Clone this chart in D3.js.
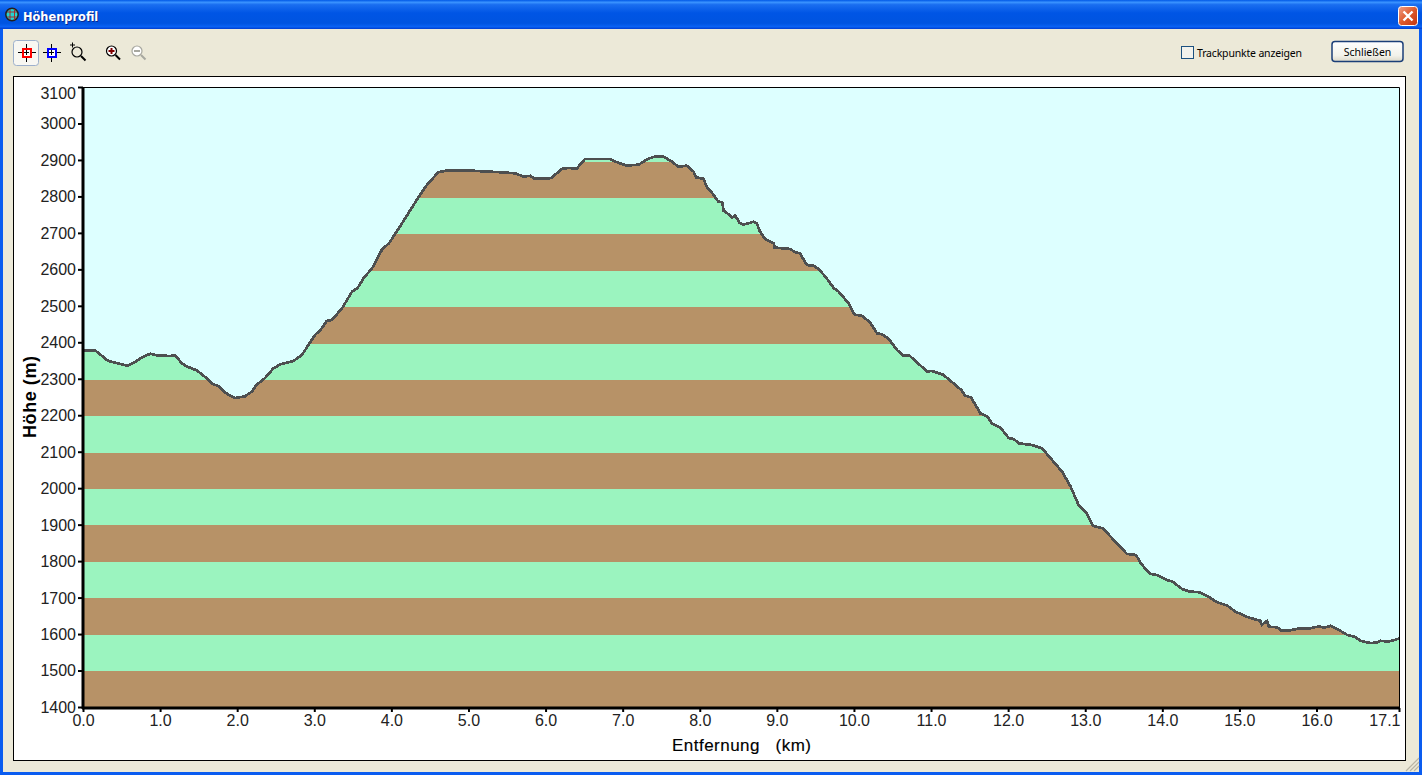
<!DOCTYPE html>
<html><head><meta charset="utf-8"><title>Höhenprofil</title>
<script src="https://cdn.jsdelivr.net/npm/d3@7"></script>
<style>html,body{margin:0;padding:0;background:#ECE9D8;overflow:hidden}svg{display:block}text{font-family:"Liberation Sans",Arial,sans-serif}</style>
</head><body><div id="chart"></div>
<script>
const distanceKm=[0,.16,.24,.32,.44,.58,.67,.76,.87,.97,1.13,1.20,1.28,1.35,1.48,1.58,1.67,1.76,1.86,1.97,2.10,2.19,2.25,2.36,2.47,2.56,2.73,2.84,2.89,3.01,3.08,3.16,3.23,3.36,3.49,3.56,3.64,3.75,3.88,3.97,4.07,4.22,4.33,4.46,4.61,4.70,5.06,5.41,5.61,5.71,5.80,5.86,6.02,6.08,6.21,6.30,6.40,6.51,6.71,6.84,6.92,7.05,7.21,7.33,7.42,7.53,7.64,7.72,7.83,7.92,7.95,8.05,8.09,8.18,8.24,8.29,8.31,8.37,8.42,8.46,8.52,8.57,8.70,8.74,8.78,8.85,8.96,8.97,9.17,9.24,9.30,9.39,9.48,9.54,9.63,9.74,9.80,9.93,10.01,10.10,10.21,10.30,10.36,10.45,10.56,10.64,10.72,10.82,10.95,11.01,11.16,11.29,11.40,11.44,11.52,11.64,11.73,11.79,11.90,12.01,12.07,12.14,12.31,12.44,12.55,12.70,12.81,12.91,13.02,13.10,13.23,13.41,13.54,13.66,13.72,13.84,13.93,14.06,14.13,14.26,14.36,14.47,14.60,14.71,14.84,14.95,15.12,15.27,15.29,15.36,15.38,15.49,15.54,15.66,15.75,15.88,16.04,16.09,16.18,16.29,16.40,16.50,16.57,16.70,16.78,16.83,16.94,17.07];
const elevationM=[2381,2381,2367,2353,2346,2339,2349,2361,2372,2367,2366,2367,2346,2337,2326,2309,2291,2282,2263,2250,2255,2268,2286,2305,2332,2343,2352,2369,2385,2424,2437,2462,2465,2497,2543,2552,2580,2607,2659,2676,2708,2758,2795,2836,2871,2875,2875,2871,2868,2859,2861,2853,2853,2856,2880,2883,2880,2907,2907,2907,2899,2889,2892,2908,2914,2914,2900,2886,2889,2873,2857,2853,2831,2809,2790,2789,2765,2756,2746,2752,2731,2727,2735,2731,2708,2687,2676,2664,2660,2651,2648,2616,2614,2605,2584,2552,2543,2511,2479,2477,2458,2428,2426,2413,2382,2367,2367,2348,2323,2325,2314,2291,2271,2257,2252,2208,2199,2181,2169,2140,2138,2126,2121,2112,2085,2048,2007,1958,1934,1899,1892,1851,1822,1819,1796,1767,1764,1750,1746,1725,1718,1717,1704,1689,1680,1663,1647,1638,1627,1638,1622,1620,1612,1612,1616,1616,1623,1619,1624,1613,1599,1594,1583,1577,1578,1583,1581,1589];
const yTicks=[1400,1500,1600,1700,1800,1900,2000,2100,2200,2300,2400,2500,2600,2700,2800,2900,3000,3100];
const xTicks=[0,1,2,3,4,5,6,7,8,9,10,11,12,13,14,15,16,17.07];
const bandEdges=[1400,1500,1600,1700,1800,1900,2000,2100,2200,2300,2400,2500,2600,2700,2800,2900,3000];
const labels={title:"Höhenprofil",check:"Trackpunkte anzeigen",close:"Schließen",xAxis:"Entfernung   (km)",yAxis:"Höhe (m)"};
const palette={sky:"#DDFFFF",brown:"#B79267",green:"#9BF4BF",line:"#4D4F50",face:"#ECE9D8"};

const W=1422,H=775,L=83,R=1399,T=87,B=707;
const svg=d3.select("#chart").append("svg").attr("width",W).attr("height",H);
const defs=svg.append("defs");
const tg=defs.append("linearGradient").attr("id","tb").attr("x1",0).attr("x2",0).attr("y1",0).attr("y2",1);
[[0,"#0058E6"],[.08,"#3A93FF"],[.16,"#1A6EF0"],[.45,"#0055E5"],[.8,"#0054E0"],[.92,"#0A62F4"],[1,"#003DD0"]].forEach(s=>tg.append("stop").attr("offset",s[0]).attr("stop-color",s[1]));
const cg=defs.append("linearGradient").attr("id","cl").attr("x1",0).attr("x2",1).attr("y1",0).attr("y2",1);
[[0,"#F0A088"],[.5,"#DE5A2C"],[1,"#C23410"]].forEach(s=>cg.append("stop").attr("offset",s[0]).attr("stop-color",s[1]));
const bg=defs.append("linearGradient").attr("id","btn").attr("x1",0).attr("x2",0).attr("y1",0).attr("y2",1);
[[0,"#FFFFFF"],[.7,"#F2F2EA"],[1,"#DCD8C8"]].forEach(s=>bg.append("stop").attr("offset",s[0]).attr("stop-color",s[1]));

// window frame
svg.append("rect").attr("width",W).attr("height",H).attr("fill","#0A5CF0");
svg.append("rect").attr("width",W).attr("height",29).attr("fill","url(#tb)");
svg.append("rect").attr("x",3).attr("y",29).attr("width",W-6).attr("height",H-32).attr("fill",palette.face);
svg.append("text").attr("x",24).attr("y",22).attr("fill","#0A2A90").attr("font-size",11.4).attr("font-weight","bold").style("font-family","'DejaVu Sans'").text(labels.title);
svg.append("text").attr("x",23).attr("y",21).attr("fill","#fff").attr("font-size",11.4).attr("font-weight","bold").style("font-family","'DejaVu Sans'").text(labels.title);
// title icon
svg.append("circle").attr("cx",12).attr("cy",14.5).attr("r",6.2).attr("fill","#24D4D0").attr("stroke","#202020").attr("stroke-width",1.5);
svg.append("path").attr("d","M7 12h10M7 17h10M10 9v11M14.5 9v11").attr("stroke","#B02020").attr("fill","none").attr("stroke-width",.9);
// close button
svg.append("rect").attr("x",1398.5).attr("y",6.5).attr("width",19).attr("height",19).attr("rx",3).attr("fill","url(#cl)").attr("stroke","#fff");
svg.append("path").attr("d","M1403.5 11.5l9 9M1412.5 11.5l-9 9").attr("stroke","#fff").attr("stroke-width",2.4);
// toolbar
svg.append("rect").attr("x",13.5).attr("y",40.5).attr("width",25).attr("height",25).attr("rx",3).attr("fill","#F8F7F2").attr("stroke","#9DB0CC");
function crossIcon(cx,cy,c){const g=svg.append("g").attr("fill","none").attr("shape-rendering","crispEdges");
  g.append("path").attr("d",`M${cx-9} ${cy}h18M${cx} ${cy-9}v18`).attr("stroke","#000");
  g.append("rect").attr("x",cx-4).attr("y",cy-4).attr("width",8).attr("height",8).attr("stroke",c).attr("stroke-width",2).attr("fill","#fff");
  g.append("path").attr("d",`M${cx-2.5} ${cy}h5M${cx} ${cy-2.5}v5`).attr("stroke","#000");}
crossIcon(26.5,52.5,"#FF0000");crossIcon(51.5,52.5,"#0000FF");
function lens(cx,cy,c,sign,handle){const g=svg.append("g").attr("fill","none");
  g.append("circle").attr("cx",cx).attr("cy",cy).attr("r",5).attr("stroke",c).attr("stroke-width",1.2).attr("fill",sign?"#fff":"none");
  g.append("path").attr("d",`M${cx+4} ${cy+4}l4.5 4.5`).attr("stroke",handle).attr("stroke-width",2);
  if(sign)g.append("path").attr("d",`M${cx-3} ${cy}h6`+(sign==="+"?`M${cx} ${cy-3}v6`:"")).attr("stroke",sign==="+"?"#800000":"#A8A8A0").attr("stroke-width",2);}
lens(77,52,"#000",null,"#000");svg.append("path").attr("d","M70 45h5M72.5 42.5v5").attr("stroke","#000");
lens(111.5,51,"#000","+","#000");lens(137,51,"#A8A8A0","-","#A8A8A0");
// checkbox + close
svg.append("rect").attr("x",1181.5).attr("y",46.5).attr("width",12).attr("height",12).attr("fill","#F2F2EC").attr("stroke","#1C5180");
svg.append("text").attr("x",1197).attr("y",57).attr("font-size",10.5).style("font-family","'Noto Sans'").attr("fill","#000").attr("textLength",105).text(labels.check);
svg.append("rect").attr("x",1332).attr("y",41.5).attr("width",71).attr("height",20).attr("rx",3).attr("fill","url(#btn)").attr("stroke","#1B3F78").attr("stroke-width",1.5);
svg.append("text").attr("x",1367.5).attr("y",56).attr("text-anchor","middle").attr("font-size",10.5).style("font-family","'Noto Sans'").attr("fill","#000").text(labels.close);
// grip
svg.append("path").attr("d","M1406 771l13-13M1410 771l9-9M1414 771l5-5").attr("stroke","#B8B4A4").attr("stroke-width",1.2);
// chart panel
svg.append("rect").attr("x",13.5).attr("y",76.5).attr("width",1392).attr("height",684).attr("fill","#fff").attr("stroke","#000");

const x=d3.scaleLinear().domain([0,17.07]).range([L,R]);
const yAxisScale=d3.scaleLinear().domain([1400,3100]).range([B,T]);
const y=d3.scaleLinear().domain([1400,3100]).range([707.4,88.9]);
const profile=distanceKm.map((d,i)=>[d,elevationM[i]]);

const plot=svg.append("g");
plot.append("rect").attr("x",L).attr("y",T).attr("width",R-L).attr("height",B-T).attr("fill",palette.sky);
const area=d3.area().x(d=>x(d[0])).y0(B).y1(d=>y(d[1]));
defs.append("clipPath").attr("id","terrain").append("path").attr("d",area(profile));
plot.append("g").attr("clip-path","url(#terrain)").selectAll("rect").data(bandEdges).join("rect")
  .attr("x",L).attr("width",R-L).attr("y",d=>y(d+100)).attr("height",d=>y(d)-y(d+100))
  .attr("fill",(d,i)=>i%2?palette.green:palette.brown).attr("shape-rendering","crispEdges");
plot.append("path").attr("d",d3.line().x(d=>x(d[0])).y(d=>y(d[1]))(profile)).attr("fill","none").attr("stroke",palette.line).attr("stroke-width",2.7).attr("shape-rendering","crispEdges");
// frame
plot.append("path").attr("d",`M${L} ${T+.5}H${R+.5}V${B}`).attr("fill","none").attr("stroke","#000");

const gy=svg.append("g").attr("transform",`translate(${L},0)`).call(d3.axisLeft(yAxisScale).tickValues(yTicks).tickFormat(d3.format("d")).tickSize(5).tickPadding(2));
gy.select(".domain").attr("stroke-width",3).attr("d",`M0 ${T}V${B+2}`);
gy.selectAll(".tick line").attr("stroke-width",2);
gy.selectAll("text").attr("font-size",16).style("font-family","'Liberation Sans'").attr("fill","#222").attr("dy",(d)=>d===3100?"0.72em":"0.34em");
const gx=svg.append("g").attr("transform",`translate(0,${B+1})`).call(d3.axisBottom(x).tickValues(xTicks).tickFormat(d3.format(".1f")).tickSize(4).tickPadding(3));
gx.select(".domain").attr("stroke-width",3).attr("d",`M${L-1} 0H${R+1}`);
gx.selectAll(".tick line").attr("stroke-width",2);
gx.selectAll("text").attr("font-size",16).style("font-family","'Liberation Sans'").attr("fill","#222").attr("text-anchor",d=>d>17?"end":"middle").attr("dx",d=>d>17?"1":"0");
svg.append("text").attr("x",672).attr("y",751).attr("font-size",17).attr("fill","#000").attr("stroke","#000").attr("stroke-width",.15).style("white-space","pre").attr("textLength",139).text(labels.xAxis);
svg.append("text").attr("transform","translate(36,397) rotate(-90)").attr("text-anchor","middle").attr("font-size",18).attr("font-weight","bold").attr("fill","#000").attr("textLength",82).text(labels.yAxis);
</script></body></html>
